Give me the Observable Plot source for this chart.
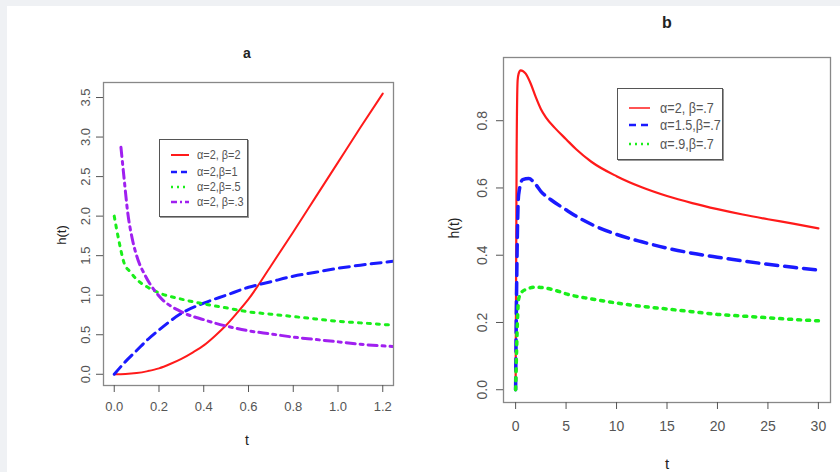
<!DOCTYPE html>
<html><head><meta charset="utf-8">
<script src="https://cdn.jsdelivr.net/npm/d3@7"></script>
<script src="https://cdn.jsdelivr.net/npm/@observablehq/plot@0.6"></script>
<style>
body{margin:0;background:#eff1f4;}
#page{position:relative;width:840px;height:472px;overflow:hidden;}
#paper{position:absolute;left:7px;top:6px;right:0;bottom:0;background:#fff;}
.abs{position:absolute;font-family:"Liberation Sans",Arial,sans-serif;color:#222;white-space:nowrap;}
.c{transform:translate(-50%,-50%);}
.rot{transform:translate(-50%,-50%) rotate(-90deg);}
.legend{position:absolute;background:#fff;border:1.3px solid #555;box-shadow:1px 1px 0 #999;}
.legend .row{position:absolute;left:0;right:0;height:16px;}
.legend svg{position:absolute;top:0;}
.legend span{position:absolute;top:0;line-height:16px;white-space:nowrap;font-family:"Liberation Sans",Arial,sans-serif;color:#555;transform:scaleX(0.84);transform-origin:0 50%;}
.plot{position:absolute;top:0;}
</style></head><body>
<div id="page"><div id="paper"></div></div>
<script>
// ---------- Panel a data ----------
const aRedT = [0,0.05,0.1,0.15,0.2,0.25,0.3,0.35,0.4,0.45,0.5,0.55,0.6,0.7,0.8,0.9,1.0,1.1,1.2];
const aRedH = [0,0.003,0.015,0.04,0.075,0.13,0.195,0.275,0.365,0.485,0.62,0.78,0.95,1.37,1.8,2.24,2.68,3.12,3.55];
const aBlueT = [0,0.05,0.1,0.15,0.2,0.3,0.4,0.5,0.6,0.7,0.8,0.9,1.0,1.1,1.25];
const aBlueH = [0,0.16,0.3,0.44,0.56,0.77,0.9,1.0,1.1,1.17,1.24,1.29,1.34,1.38,1.43];
const aGreenT = [0,0.02,0.045,0.07,0.1,0.15,0.2,0.3,0.4,0.5,0.6,0.7,0.8,0.9,1.0,1.1,1.25];
const aGreenH = [2.0,1.7,1.4,1.3,1.2,1.1,1.03,0.95,0.89,0.84,0.79,0.76,0.73,0.7,0.67,0.65,0.62];
const aPurpleT = [0.03,0.045,0.06,0.08,0.1,0.14,0.2,0.3,0.4,0.5,0.6,0.7,0.8,0.9,1.0,1.1,1.25];
const aPurpleH = [2.87,2.45,2.05,1.72,1.5,1.24,0.99,0.79,0.69,0.61,0.55,0.51,0.47,0.44,0.41,0.38,0.35];
const aXTicks = [0,0.2,0.4,0.6,0.8,1.0,1.2];
const aYTicks = [0,0.5,1.0,1.5,2.0,2.5,3.0,3.5];
const aLegend = ["α=2, β=2","α=2,β=1","α=2,β=.5","α=2, β=.3"];

// ---------- Panel b data ----------
const bRedT = [0,0.1,0.2,0.3,0.5,1,1.5,2,2.5,3,4,5,6,7.5,10,12.5,15,17.5,20,22.5,25,27.5,30];
const bRedH = [0,0.7,0.92,0.94,0.95,0.94,0.91,0.87,0.835,0.81,0.775,0.745,0.715,0.678,0.635,0.602,0.576,0.555,0.537,0.521,0.507,0.494,0.48];
const bBlueT = [0,0.1,0.2,0.3,0.7,1.3,2,2.5,3.5,5,6,7.5,10,12.5,15,17.5,20,22.5,25,27.5,30];
const bBlueH = [0,0.3,0.5,0.58,0.625,0.628,0.61,0.59,0.565,0.535,0.516,0.492,0.462,0.44,0.421,0.406,0.394,0.383,0.373,0.364,0.356];
const bGreenT = [0,0.1,0.2,0.3,0.6,1,2,3,4,5,7.5,10,12.5,15,17.5,20,22.5,25,27.5,30];
const bGreenH = [0,0.12,0.22,0.27,0.29,0.298,0.305,0.302,0.295,0.285,0.27,0.258,0.248,0.24,0.232,0.224,0.219,0.214,0.209,0.205];
const bXTicks = [0,5,10,15,20,25,30];
const bYTicks = [0,0.2,0.4,0.6,0.8];
const bLegend = ["α=2, β=.7","α=1.5,β=.7","α=.9,β=.7"];

const rows = (t, h) => t.map((x, i) => ({t: x, h: h[i]}));
const fmt1 = d3.format(".1f");
const FONT = '"Liberation Sans",Arial,sans-serif';

function panel(o) {
  const lines = o.series.map(s => Plot.line(rows(s.t, s.h), {
    x: "t", y: "h", stroke: s.color, strokeWidth: s.w, strokeDasharray: s.dash,
    curve: "monotone-x", clip: true
  }));
  return Plot.plot({
    width: o.width, height: o.height,
    marginLeft: o.ml, marginRight: o.mr, marginTop: o.mt, marginBottom: o.mb,
    x: {domain: o.xDomain}, y: {domain: o.yDomain},
    style: {background: "transparent", fontFamily: FONT, overflow: "visible"},
    marks: [
      ...lines,
      Plot.frame({stroke: "#888", strokeWidth: 1.3}),
      Plot.axisX({ticks: o.xTicks, tickSize: 7, tickPadding: o.xPad, tickFormat: o.xFmt,
        color: "#555", fontSize: o.xFs, label: null}),
      Plot.axisY({ticks: o.yTicks, tickSize: 7, tickFormat: () => "", color: "#555", label: null}),
      Plot.text(o.yTicks, {y: d => d, frameAnchor: "left", dx: o.yDx, rotate: -90,
        text: d => fmt1(d), fill: "#555", fontSize: o.yFs, textAnchor: "middle", lineAnchor: "middle"})
    ]
  });
}

const page = document.getElementById("page");

const plotA = panel({
  width: 420, height: 472, ml: 103, mr: 27, mt: 82, mb: 87,
  xDomain: [-0.048, 1.248], yDomain: [-0.142, 3.69],
  xTicks: aXTicks, yTicks: aYTicks, xFmt: fmt1, xPad: 9, xFs: 13, yDx: -18, yFs: 13,
  series: [
    {t: aRedT, h: aRedH, color: "#ff1a1a", w: 2, dash: null},
    {t: aBlueT, h: aBlueH, color: "#1a1aff", w: 3, dash: "10,6"},
    {t: aGreenT, h: aGreenH, color: "#1aee1a", w: 3, dash: "3,6"},
    {t: aPurpleT, h: aPurpleH, color: "#a020f0", w: 3, dash: "9,5,3,5"}
  ]
});
plotA.classList.add("plot"); plotA.style.left = "0px";
page.appendChild(plotA);

const plotB = panel({
  width: 420, height: 472, ml: 83, mr: 10, mt: 57, mb: 70,
  xDomain: [-1.2, 31.2], yDomain: [-0.038, 0.988],
  xTicks: bXTicks, yTicks: bYTicks, xFmt: d3.format("d"), xPad: 12, xFs: 14, yDx: -21, yFs: 14,
  series: [
    {t: bRedT, h: bRedH, color: "#ff1a1a", w: 2.2, dash: null},
    {t: bBlueT, h: bBlueH, color: "#1a1aff", w: 3.5, dash: "12,7"},
    {t: bGreenT, h: bGreenH, color: "#1aee1a", w: 3.5, dash: "3,6"}
  ]
});
plotB.classList.add("plot"); plotB.style.left = "420px";
page.appendChild(plotB);

// ---------- titles and axis labels ----------
function label(txt, x, y, cls, size, weight) {
  const d = document.createElement("div");
  d.className = "abs " + cls;
  d.style.left = x + "px"; d.style.top = y + "px";
  d.style.fontSize = size + "px"; d.style.fontWeight = weight || "normal";
  d.textContent = txt;
  page.appendChild(d);
}
label("a", 247, 53, "c", 14, "bold");
label("t", 247, 440, "c", 14);
label("h(t)", 61, 235, "rot", 13);
label("b", 667, 23, "c", 16, "bold");
label("t", 667, 463, "c", 15);
label("h(t)", 454, 228, "rot", 14);

// ---------- legends ----------
function legend(items, styles, box) {
  const L = document.createElement("div");
  L.className = "legend";
  Object.assign(L.style, {left: box.x + "px", top: box.y + "px", width: box.w + "px", height: box.h + "px"});
  items.forEach((txt, i) => {
    const r = document.createElement("div");
    r.className = "row";
    r.style.top = (box.rows[i] - 8) + "px";
    const s = styles[i];
    const ns = "http://www.w3.org/2000/svg";
    const svg = document.createElementNS(ns, "svg");
    svg.setAttribute("width", box.sw); svg.setAttribute("height", 16);
    svg.style.left = box.sx + "px";
    const ln = document.createElementNS(ns, "line");
    ln.setAttribute("x1", 0); ln.setAttribute("x2", box.sw);
    ln.setAttribute("y1", 8); ln.setAttribute("y2", 8);
    ln.setAttribute("stroke", s.color); ln.setAttribute("stroke-width", s.w);
    if (s.dash) ln.setAttribute("stroke-dasharray", s.dash);
    svg.appendChild(ln); r.appendChild(svg);
    const sp = document.createElement("span");
    sp.style.left = box.tx + "px"; sp.style.fontSize = box.fs + "px";
    sp.textContent = txt;
    r.appendChild(sp);
    L.appendChild(r);
  });
  page.appendChild(L);
}
legend(aLegend, [
  {color: "#ff1a1a", w: 2}, {color: "#1a1aff", w: 2.5, dash: "6,4"},
  {color: "#1aee1a", w: 2.5, dash: "2,4"}, {color: "#a020f0", w: 2.5, dash: "6,3,2,3"}
], {x: 159, y: 139, w: 87, h: 76, rows: [15, 32, 47, 62], sx: 11, sw: 18, tx: 37, fs: 13});
legend(bLegend, [
  {color: "#ff1a1a", w: 1.5}, {color: "#1a1aff", w: 2.5, dash: "7,5"},
  {color: "#1aee1a", w: 2.5, dash: "2,4"}
], {x: 617, y: 88, w: 104, h: 70, rows: [19, 36, 55], sx: 11, sw: 21, tx: 42, fs: 15});
</script>
</body></html>
